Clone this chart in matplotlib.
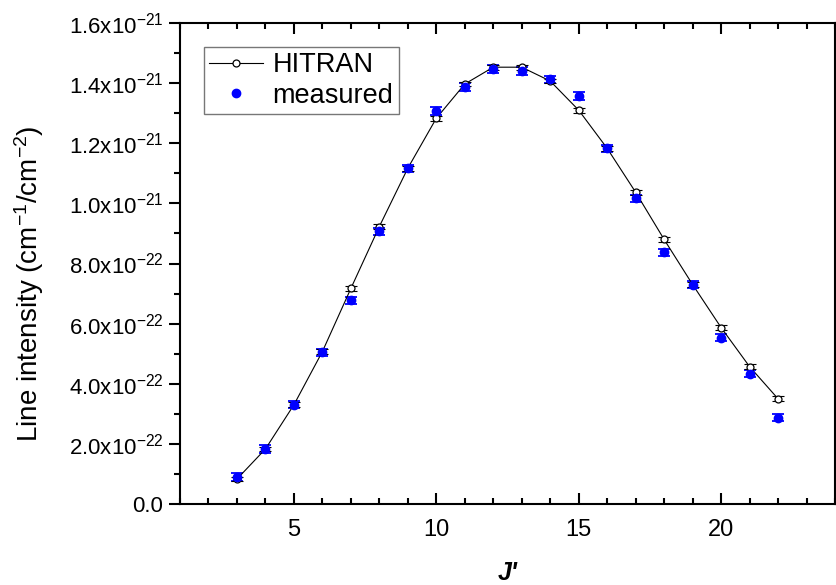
import matplotlib
matplotlib.use("Agg")
import matplotlib.pyplot as plt
from matplotlib.ticker import FuncFormatter, MultipleLocator

plt.rcParams["font.family"] = "Liberation Sans"
plt.rcParams["mathtext.fontset"] = "custom"
plt.rcParams["mathtext.rm"] = "Liberation Sans"
plt.rcParams["mathtext.it"] = "Liberation Sans:italic"
plt.rcParams["mathtext.bf"] = "Liberation Sans:bold"

# rotational quantum number J'
j_upper = [3, 4, 5, 6, 7, 8, 9, 10, 11, 12, 13, 14, 15, 16, 17, 18, 19, 20, 21, 22]

# line intensities in 1e-21 cm-1/cm-2
hitran = [0.083, 0.183, 0.330, 0.507, 0.717, 0.923, 1.117, 1.283, 1.397, 1.453,
          1.453, 1.407, 1.310, 1.183, 1.037, 0.880, 0.730, 0.587, 0.457, 0.350]
measured = [0.090, 0.183, 0.330, 0.505, 0.677, 0.907, 1.117, 1.307, 1.387, 1.447,
            1.440, 1.413, 1.357, 1.183, 1.017, 0.837, 0.730, 0.553, 0.433, 0.287]
hitran_err = [0.008] * len(j_upper)
measured_err = [0.012] * len(j_upper)

scale = 1e-21
hitran = [v * scale for v in hitran]
measured = [v * scale for v in measured]
hitran_err = [v * scale for v in hitran_err]
measured_err = [v * scale for v in measured_err]

fig = plt.figure(figsize=(8.36, 5.85), dpi=100)
ax = fig.add_axes([180 / 836, 81 / 585, 655 / 836, 481 / 585])

ax.errorbar(j_upper, measured, yerr=measured_err, fmt="none", ecolor="blue",
            elinewidth=1, capsize=4.5, capthick=1.3, zorder=2)
ax.errorbar(j_upper, hitran, yerr=hitran_err, fmt="none", ecolor="black",
            elinewidth=0.8, capsize=4, capthick=0.8, zorder=3)
ax.plot(j_upper, hitran, "-", color="black", lw=0.8, marker="o", ms=5,
        mfc="white", mec="black", mew=0.9, label="HITRAN", zorder=4)
ax.plot(j_upper, measured, "o", color="blue", ms=6, mec="blue",
        label="measured", zorder=5)

ax.set_xlim(1, 24)
ax.set_ylim(0, 1.6e-21)
ax.xaxis.set_major_locator(MultipleLocator(5))
ax.xaxis.set_minor_locator(MultipleLocator(1))
ax.yaxis.set_major_locator(MultipleLocator(0.2e-21))
ax.yaxis.set_minor_locator(MultipleLocator(0.1e-21))


def sci_fmt(v, pos):
    if abs(v) < 1e-30:
        return "0.0"
    exp = int(f"{v:.1e}".split("e")[1])
    mant = v / 10 ** exp
    return r"$\mathrm{%.1fx10^{%d}}$" % (mant, exp)


ax.yaxis.set_major_formatter(FuncFormatter(sci_fmt))

ax.tick_params(axis="both", which="both", top=True, right=True, width=1.5)
ax.tick_params(axis="y", which="both", direction="out", labelsize=16, pad=4)
ax.tick_params(axis="x", which="both", direction="in", labelsize=17, pad=11)
ax.tick_params(which="major", length=8)
ax.tick_params(which="minor", length=4)
for s in ax.spines.values():
    s.set_linewidth(1.5)

ax.set_ylabel(r"Line intensity (cm$^{\mathrm{-1}}$/cm$^{\mathrm{-2}}$)", fontsize=20)
ax.yaxis.set_label_coords(-0.204, 0.458)
ax.set_xlabel("J'", fontsize=18, fontweight="bold", fontstyle="italic", labelpad=14)

leg = ax.legend(loc="upper left", bbox_to_anchor=(0.036, 0.95), fontsize=19.5,
                frameon=True, fancybox=False, edgecolor="#555555",
                handlelength=2.0, handletextpad=0.35, borderpad=0.2,
                labelspacing=0.15, borderaxespad=0)
leg.get_frame().set_linewidth(1.0)

fig.savefig("out.png", dpi=100)
